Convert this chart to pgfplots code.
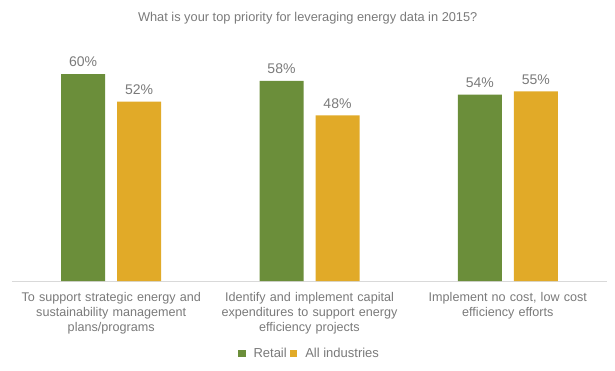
\documentclass[border=0pt]{standalone}
\usepackage{pgfplots}
\pgfplotsset{compat=1.18}
\usepackage{fontspec}
\setmainfont{Liberation Sans}
\definecolor{retail}{HTML}{6B8E3A}
\definecolor{allind}{HTML}{E1AA28}
\definecolor{txt}{HTML}{7A7A7A}
\definecolor{base}{HTML}{D9D9D9}
\begin{document}
\begin{tikzpicture}
\path[use as bounding box] (-12pt,-89pt) rectangle (603pt,281pt);
\begin{axis}[
  at={(0,0)}, anchor=south west,
  scale only axis,
  width=595pt, height=241.5pt,
  ymin=0, ymax=70,
  xmin=-0.5, xmax=2.5,
  ybar=12pt, bar width=44pt,
  axis x line*=bottom, axis y line=none,
  x axis line style={base, line width=0.8pt, -},
  xtick=data,
  xticklabels={{To support strategic energy and\\sustainability management\\plans/programs},
               {Identify and implement capital\\expenditures to support energy\\efficiency projects},
               {Implement no cost, low cost\\efficiency efforts}},
  xticklabel style={text width=200pt, align=center, font=\fontsize{12.6}{15}\selectfont, text=txt, yshift=-8pt},
  major tick length=0pt,
  /pgf/number format/assume math mode=true,
  nodes near coords={\pgfmathprintnumber{\pgfplotspointmeta}\%},
  nodes near coords style={font=\fontsize{14}{16}\selectfont, text=txt, yshift=3.5pt},
  title={What is your top priority for leveraging energy data in 2015?},
  title style={at={(0.497,1)}, anchor=south, yshift=6pt, font=\fontsize{12.8}{14}\selectfont, text=txt},
  legend style={at={(0.5,-82pt)}, anchor=south, draw=none,
     font=\fontsize{13}{15}\selectfont, text=txt, legend columns=2,
     /tikz/every odd column/.append style={column sep=6pt},
     /tikz/every even column/.append style={column sep=1pt}},
  legend cell align=left,
  legend image code/.code={\fill[#1] (0pt,-3.8pt) rectangle (7.5pt,3.8pt);},
]
\addplot[fill=retail, draw=none] coordinates {(0,60) (1,58) (2,54)};
\addplot[fill=allind, draw=none] coordinates {(0,52) (1,48) (2,55)};
\legend{Retail, All industries}
\end{axis}
\end{tikzpicture}
\end{document}
